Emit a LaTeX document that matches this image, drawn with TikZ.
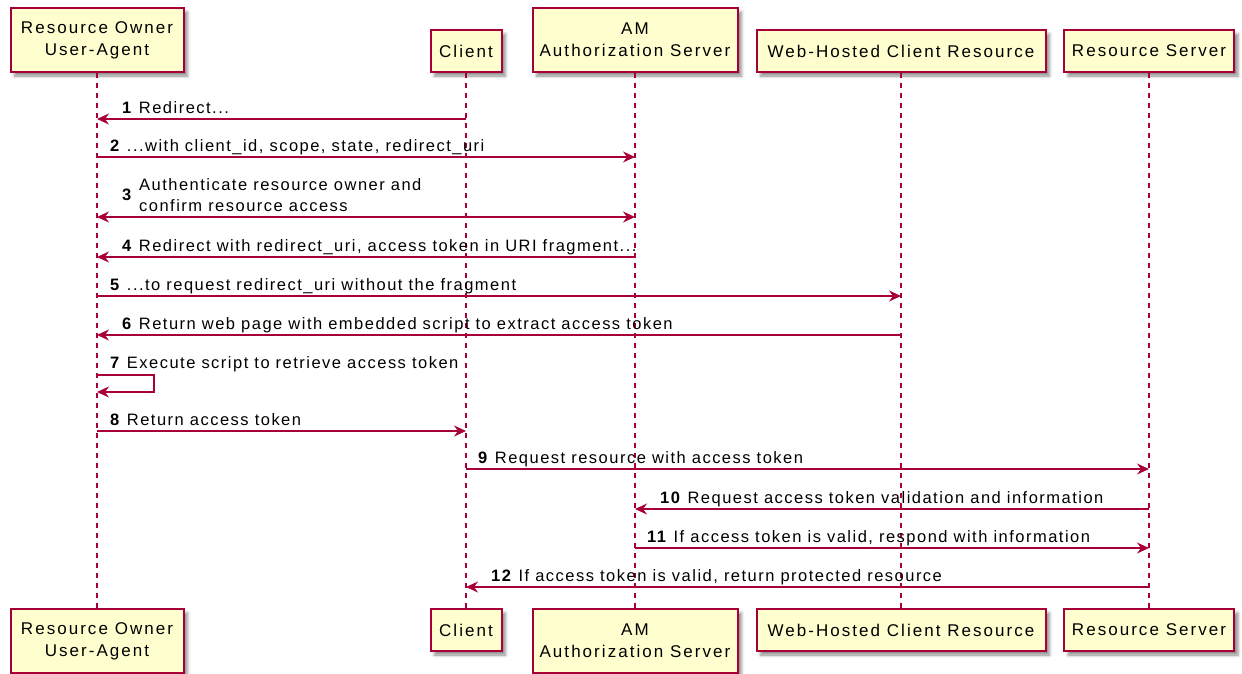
\documentclass[tikz,border=0pt]{standalone}
\usepackage{fontspec}
\setmainfont{Liberation Sans}[LetterSpace=9]
\newfontfamily\partfont{Liberation Sans}[LetterSpace=12]
\usetikzlibrary{arrows.meta,shadows.blur}
\definecolor{umlred}{HTML}{A80036}
\definecolor{umlfill}{HTML}{FEFECE}
\tikzset{
  part/.style={draw=umlred, line width=2pt, fill=umlfill,
    blur shadow={shadow xshift=4pt,shadow yshift=-4pt,shadow blur radius=3pt,shadow opacity=45},
    font=\partfont\fontsize{17}{22}\selectfont, align=center, inner sep=0pt},
  partone/.style={part, minimum height=42pt},
  parttwo/.style={part, minimum height=64pt},
  life/.style={umlred, line width=1.2pt, dash pattern=on 5pt off 5pt},
  msg/.style={umlred, line width=1.3pt, -{Stealth[length=12pt,width=11pt,inset=4pt]}},
  bimsg/.style={umlred, line width=1.3pt, {Stealth[length=12pt,width=11pt,inset=4pt]}-{Stealth[length=12pt,width=11pt,inset=4pt]}},
  lbl/.style={anchor=base west, inner sep=0pt, font=\fontsize{16.5}{21}\selectfont},
}
\begin{document}
\begin{tikzpicture}[x=1pt,y=-1pt]
\useasboundingbox (0,0) rectangle (1242,673);
% top participants
\node[parttwo, minimum width=173pt] (ro) at (97,40) {Resource Owner\\User-Agent};
\node[partone, minimum width=71pt] (cl) at (466,51) {Client};
\node[parttwo, minimum width=205pt] (am) at (635,40) {AM\\Authorization Server};
\node[partone, minimum width=289pt] (wh) at (901,51) {Web-Hosted Client Resource};
\node[partone, minimum width=170pt] (rs) at (1149,51) {Resource Server};
% bottom participants
\node[parttwo, minimum width=173pt] (rob) at (97,641) {Resource Owner\\User-Agent};
\node[partone, minimum width=71pt] (clb) at (466,630) {Client};
\node[parttwo, minimum width=205pt] (amb) at (635,641) {AM\\Authorization Server};
\node[partone, minimum width=289pt] (whb) at (901,630) {Web-Hosted Client Resource};
\node[partone, minimum width=170pt] (rsb) at (1149,630) {Resource Server};
% lifelines
\draw[life] (ro) -- (rob);
\draw[life] (cl) -- (clb);
\draw[life] (am) -- (amb);
\draw[life] (wh) -- (whb);
\draw[life] (rs) -- (rsb);
% messages
\draw[msg] (cl |- 0,119) -- (ro |- 0,119);
\node[lbl] (l1) at (122,113) {\textbf{1} Redirect...};
\draw[msg] (ro |- 0,157) -- (am |- 0,157);
\node[lbl] (l2) at (110,151) {\textbf{2} ...with client\_id, scope, state, redirect\_uri};
\draw[bimsg] (ro |- 0,217) -- (am |- 0,217);
\node[lbl] (l3n) at (122,200) {\textbf{3}};
\node[lbl] (l3a) at (139,190) {Authenticate resource owner and};
\node[lbl] (l3b) at (139,211) {confirm resource access};
\draw[msg] (am |- 0,257) -- (ro |- 0,257);
\node[lbl] (l4) at (122,251) {\textbf{4} Redirect with redirect\_uri, access token in URI fragment...};
\draw[msg] (ro |- 0,296) -- (wh |- 0,296);
\node[lbl] (l5) at (110,290) {\textbf{5} ...to request redirect\_uri without the fragment};
\draw[msg] (wh |- 0,335) -- (ro |- 0,335);
\node[lbl] (l6) at (122,329) {\textbf{6} Return web page with embedded script to extract access token};
\draw[msg] (ro |- 0,375) -- ++(57,0) |- (ro |- 0,392);
\node[lbl] (l7) at (110,368) {\textbf{7} Execute script to retrieve access token};
\draw[msg] (ro |- 0,431) -- (cl |- 0,431);
\node[lbl] (l8) at (110,425) {\textbf{8} Return access token};
\draw[msg] (cl |- 0,469) -- (rs |- 0,469);
\node[lbl] (l9) at (478,463) {\textbf{9} Request resource with access token};
\draw[msg] (rs |- 0,509) -- (am |- 0,509);
\node[lbl] (l10) at (660,503) {\textbf{10} Request access token validation and information};
\draw[msg] (am |- 0,548) -- (rs |- 0,548);
\node[lbl] (l11) at (647,542) {\textbf{11} If access token is valid, respond with information};
\draw[msg] (rs |- 0,587) -- (cl |- 0,587);
\node[lbl] (l12) at (491,581) {\textbf{12} If access token is valid, return protected resource};
\end{tikzpicture}
\end{document}
